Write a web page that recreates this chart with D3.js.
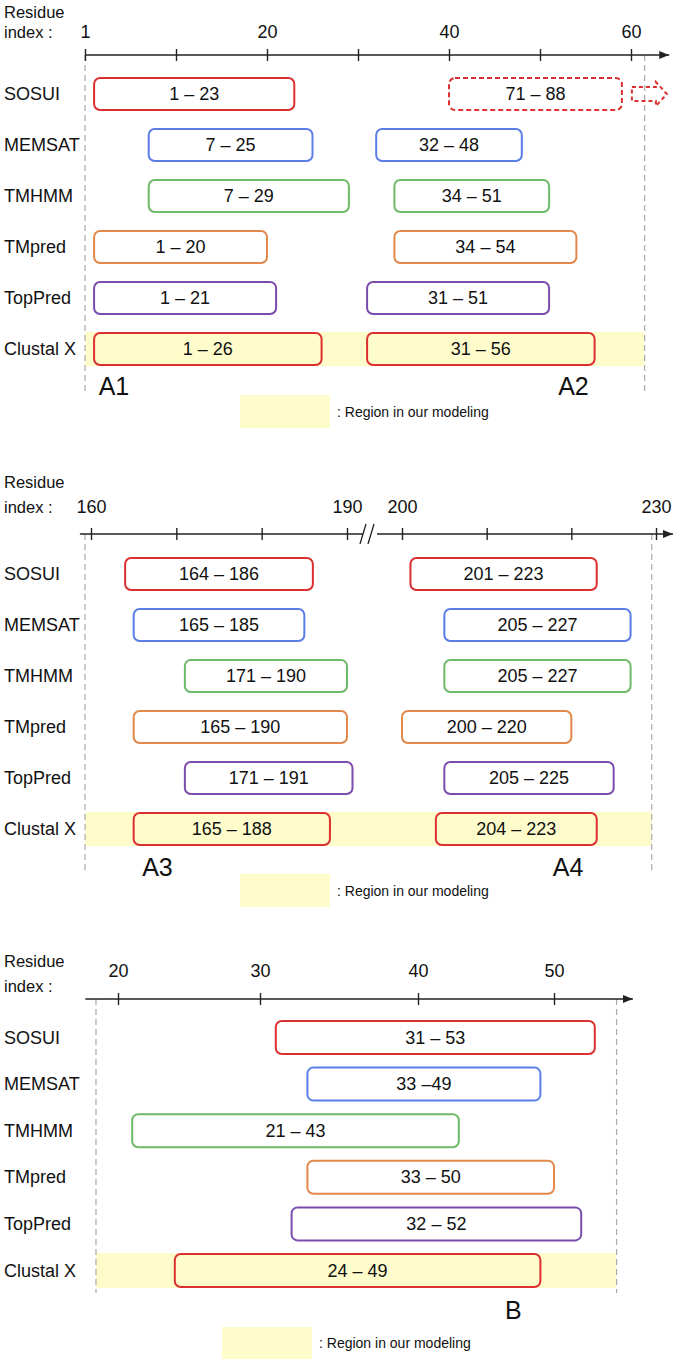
<!DOCTYPE html>
<html>
<head>
<meta charset="utf-8">
<script src="https://cdn.jsdelivr.net/npm/d3@7"></script>
<style>
  body { margin: 0; background: #fff; }
  text { font-family: "Liberation Sans", Arial, sans-serif; fill: #111; }
  .num { font-family: "Liberation Sans Narrow", "Arial Narrow", "Liberation Sans", sans-serif; }
</style>
</head>
<body>
<svg id="chart"></svg>
<script>
// --- data ---

const methods = ['SOSUI', 'MEMSAT', 'TMHMM', 'TMpred', 'TopPred', 'Clustal X'];
const methodColors = ['#dc2f2f', '#5a7ee6', '#6dbb66', '#e1884a', '#7b4cae', '#dc2f2f'];

// helices A1 / A2
const ticksA12 = [0, 10, 20, 30, 40, 50, 60];
const tickLabelsA12 = { 0: '1', 20: '20', 40: '40', 60: '60' };
const segmentsA12 = [
  ['SOSUI', 1, 23, '1 – 23'],
  ['MEMSAT', 7, 25, '7 – 25'], ['MEMSAT', 32, 48, '32 – 48'],
  ['TMHMM', 7, 29, '7 – 29'], ['TMHMM', 34, 51, '34 – 51'],
  ['TMpred', 1, 20, '1 – 20'], ['TMpred', 34, 54, '34 – 54'],
  ['TopPred', 1, 21, '1 – 21'], ['TopPred', 31, 51, '31 – 51'],
  ['Clustal X', 1, 26, '1 – 26'], ['Clustal X', 31, 56, '31 – 56']
];
// SOSUI 71-88 lies off this axis; drawn dashed at the right end
const offAxisA12 = ['SOSUI', 40, 59, '71 – 88'];
const tagsA12 = [['A1', 1.5], ['A2', 52]];

// helices A3 / A4 (broken axis 190 | 200)
const ticksA34 = [160, 170, 180, 190, 200, 210, 220, 230];
const tickLabelsA34 = { 160: '160', 190: '190', 200: '200', 230: '230' };
const segmentsA34 = [
  ['SOSUI', 164, 186, '164 – 186'], ['SOSUI', 201, 223, '201 – 223'],
  ['MEMSAT', 165, 185, '165 – 185'], ['MEMSAT', 205, 227, '205 – 227'],
  ['TMHMM', 171, 190, '171 – 190'], ['TMHMM', 205, 227, '205 – 227'],
  ['TMpred', 165, 190, '165 – 190'], ['TMpred', 200, 220, '200 – 220'],
  ['TopPred', 171, 191, '171 – 191'], ['TopPred', 205, 225, '205 – 225'],
  ['Clustal X', 165, 188, '165 – 188'], ['Clustal X', 204, 223, '204 – 223']
];
const tagsA34 = [['A3', 166], ['A4', 217.8]];

// helix B
const ticksB = [20, 30, 40, 50];
const tickLabelsB = { 20: '20', 30: '30', 40: '40', 50: '50' };
const segmentsB = [
  ['SOSUI', 31, 53, '31 – 53'],
  ['MEMSAT', 33, 49, '33 –49'],
  ['TMHMM', 21, 43, '21 – 43'],
  ['TMpred', 33, 50, '33 – 50'],
  ['TopPred', 32, 52, '32 – 52'],
  ['Clustal X', 24, 49, '24 – 49']
];
const tagsB = [['B', 46.4]];

// --- layout ---

const W = 677, H = 1362;
const svg = d3.select('#chart').attr('width', W).attr('height', H);

const defs = svg.append('defs');
defs.append('marker')
  .attr('id', 'axisArrow')
  .attr('viewBox', '0 -5 10 10')
  .attr('refX', 10)
  .attr('markerWidth', 10).attr('markerHeight', 10)
  .attr('markerUnits', 'userSpaceOnUse')
  .attr('orient', 'auto')
  .append('path').attr('d', 'M 0 -4 L 10 0 L 0 4 Z').attr('fill', '#222');

const color = d3.scaleOrdinal(methods, methodColors);

const panels = [
  {
    x: d3.scaleLinear([0, 60], [85, 631]),
    ticks: ticksA12, labels: tickLabelsA12, segments: segmentsA12, tags: tagsA12,
    axisY: 55, labelY: 38, titleY: [18, 38], axisSpan: [0, 64.2], extent: [0, 61.5],
    rowTop: 77, rowStep: 51, boxH: 34, tagY: 395, bottom: 392,
    legend: { x: 240, y: 395, w: 90, h: 33 }
  },
  {
    x: d3.scaleLinear([160, 190, 200, 230], [91, 347, 402, 656]),
    ticks: ticksA34, labels: tickLabelsA34, segments: segmentsA34, tags: tagsA34,
    axisY: 534, labelY: 513, titleY: [488, 513], axisSpan: [158.7, 232], extent: [159.3, 229.5],
    rowTop: 557, rowStep: 51, boxH: 34, tagY: 876, bottom: 872, brk: 195,
    legend: { x: 240, y: 874, w: 90, h: 33 }
  },
  {
    x: d3.scaleLinear([20, 30, 40, 50], [118, 260, 418, 554]),
    ticks: ticksB, labels: tickLabelsB, segments: segmentsB, tags: tagsB,
    axisY: 999, labelY: 977, titleY: [967, 992], axisSpan: [17.7, 55.8], extent: [18.45, 54.6],
    rowTop: 1020, rowStep: 46.6, boxH: 35, tagY: 1319, bottom: 1293,
    legend: { x: 222, y: 1327, w: 90, h: 32 }
  }
];

panels.forEach(p => drawPanel(p));

function drawPanel(p) {
  const g = svg.append('g');
  const x = p.x;
  const y = d3.scaleBand(methods, [p.rowTop, p.rowTop + p.rowStep * methods.length]);

  // title
  g.append('text').attr('x', 4).attr('y', p.titleY[0]).attr('font-size', 16.5).text('Residue');
  g.append('text').attr('x', 4).attr('y', p.titleY[1]).attr('font-size', 16.5).text('index :');

  // yellow modelling band under Clustal X
  g.append('rect')
    .attr('x', x(p.extent[0])).attr('width', x(p.extent[1]) - x(p.extent[0]))
    .attr('y', y('Clustal X')).attr('height', p.boxH)
    .attr('fill', '#fefccb');

  // dashed guides
  g.selectAll('.guide').data(p.extent).join('line')
    .attr('class', 'guide')
    .attr('x1', d => x(d)).attr('x2', d => x(d))
    .attr('y1', p.axisY).attr('y2', p.bottom)
    .attr('stroke', '#aaa').attr('stroke-width', 1.2).attr('stroke-dasharray', '6,4');

  // axis line with arrow
  g.append('line')
    .attr('x1', x(p.axisSpan[0])).attr('x2', x(p.axisSpan[1]))
    .attr('y1', p.axisY).attr('y2', p.axisY)
    .attr('stroke', '#222').attr('stroke-width', 1.6)
    .attr('marker-end', 'url(#axisArrow)');

  // ticks (both sides of the line) via d3 axis
  const axis = d3.axisTop(x).tickValues(p.ticks).tickSizeInner(-12).tickSizeOuter(0)
    .tickPadding(p.axisY - 6 - p.labelY)
    .tickFormat(d => p.labels[d] || '');
  g.append('g')
    .attr('transform', `translate(0,${p.axisY - 6})`)
    .call(axis)
    .call(a => a.select('.domain').remove())
    .call(a => a.selectAll('.tick line').attr('stroke', '#222').attr('stroke-width', 1.4))
    .call(a => a.selectAll('.tick text')
      .attr('class', 'num').attr('font-size', 18).attr('fill', '#111').attr('dy', 0));

  // axis break
  if (p.brk !== undefined) {
    const cx = x(p.brk) - 2.5;
    g.append('rect').attr('x', cx - 9).attr('y', p.axisY - 3).attr('width', 14).attr('height', 6).attr('fill', '#fff');
    [-9, -1].forEach(o => {
      g.append('line')
        .attr('x1', cx + o - 3).attr('y1', p.axisY + 10)
        .attr('x2', cx + o + 3).attr('y2', p.axisY - 10)
        .attr('stroke', '#222').attr('stroke-width', 1.3);
    });
  }

  // row labels
  g.selectAll('.rowlab').data(methods).join('text')
    .attr('class', 'rowlab')
    .attr('x', 4).attr('y', d => y(d) + p.boxH / 2)
    .attr('dominant-baseline', 'central')
    .attr('font-size', 18)
    .text(d => d);

  // prediction boxes
  const seg = g.selectAll('.seg').data(p.segments).join('g').attr('class', 'seg');
  seg.append('rect')
    .attr('x', d => x(d[1])).attr('width', d => x(d[2]) - x(d[1]))
    .attr('y', d => y(d[0]) + 1).attr('height', p.boxH - 2)
    .attr('rx', 6)
    .attr('fill', d => d[0] === 'Clustal X' ? '#fefccb' : '#fff')
    .attr('stroke', d => color(d[0])).attr('stroke-width', 2);
  seg.append('text')
    .attr('class', 'num')
    .attr('x', d => (x(d[1]) + x(d[2])) / 2)
    .attr('y', d => y(d[0]) + p.boxH / 2)
    .attr('dominant-baseline', 'central')
    .attr('text-anchor', 'middle')
    .attr('font-size', 18)
    .text(d => d[3]);

  // off-axis dashed segment + arrow
  if (p === panels[0]) {
    const d = offAxisA12;
    const top = y(d[0]) + 1, cy = y(d[0]) + p.boxH / 2;
    g.append('rect')
      .attr('x', x(d[1])).attr('width', x(d[2]) - x(d[1]))
      .attr('y', top).attr('height', p.boxH - 2).attr('rx', 6)
      .attr('fill', '#fff').attr('stroke', color(d[0])).attr('stroke-width', 2)
      .attr('stroke-dasharray', '5,3');
    g.append('text').attr('class', 'num')
      .attr('x', (x(d[1]) + x(d[2])) / 2).attr('y', cy)
      .attr('dominant-baseline', 'central').attr('text-anchor', 'middle')
      .attr('font-size', 18).text(d[3]);
    const ax = x(d[2]) + 10;
    g.append('path')
      .attr('d', `M ${ax} ${cy - 7} L ${ax + 24} ${cy - 7} L ${ax + 24} ${cy - 12} L ${ax + 35} ${cy} L ${ax + 24} ${cy + 12} L ${ax + 24} ${cy + 7} L ${ax} ${cy + 7} Z`)
      .attr('fill', 'none').attr('stroke', color(d[0])).attr('stroke-width', 2)
      .attr('stroke-dasharray', '4,3');
  }

  // helix tags
  g.selectAll('.tag').data(p.tags).join('text')
    .attr('class', 'tag')
    .attr('x', d => x(d[1])).attr('y', p.tagY)
    .attr('font-size', 25)
    .text(d => d[0]);

  // legend
  g.append('rect')
    .attr('x', p.legend.x).attr('y', p.legend.y)
    .attr('width', p.legend.w).attr('height', p.legend.h)
    .attr('fill', '#fefccb');
  g.append('text')
    .attr('x', p.legend.x + p.legend.w + 7).attr('y', p.legend.y + p.legend.h / 2)
    .attr('dominant-baseline', 'central')
    .attr('font-size', 14)
    .text(': Region in our modeling');
}
</script>
</body>
</html>
